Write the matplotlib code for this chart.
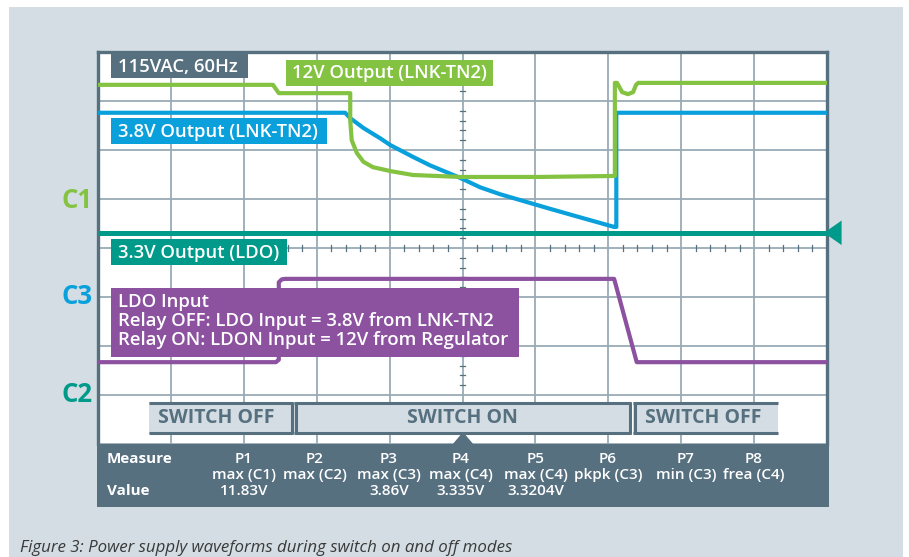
import numpy as np
import matplotlib
matplotlib.use('Agg')
import matplotlib.pyplot as plt
from matplotlib.patches import Rectangle, Polygon
from matplotlib.lines import Line2D

plt.rcParams['font.family'] = ['Open Sans', 'DejaVu Sans']

# colours
bg = '#d3dde3'
slate = '#56707f'
gridcol = '#9aabb6'
green = '#84c341'
blue = '#0aa0dc'
teal = '#009a8a'
purple = '#8c52a0'

# waveforms, x in time divisions (0..10), y in vertical divisions (-4..4)
t_12v = [0, 2.40, 2.48, 3.46, 3.46, 3.48, 3.55, 3.64, 3.77, 4.01, 4.32, 4.97,
         6.06, 7.09, 7.09, 7.12, 7.19, 7.27, 7.34, 7.38, 7.41, 10]
v_12v = [3.33, 3.33, 3.16, 3.16, 2.61, 2.20, 1.94, 1.76, 1.65, 1.57, 1.49, 1.45,
         1.45, 1.47, 3.37, 3.37, 3.18, 3.14, 3.18, 3.33, 3.37, 3.37]

t_38v = [0, 3.39, 3.46, 3.64, 3.87, 4.01, 4.32, 4.55, 4.97, 5.24, 5.51, 6.20, 6.65, 6.89,
         7.08, 7.11, 7.11, 10]
v_38v = [2.76, 2.76, 2.65, 2.45, 2.24, 2.10, 1.86, 1.69, 1.43, 1.24, 1.10, 0.80, 0.61, 0.51,
         0.43, 0.43, 2.76, 2.76]

t_33v = [0, 10]
v_33v = [0.31, 0.31]

t_ldo = [0, 2.44, 2.48, 2.48, 2.52, 2.57, 7.08, 7.39, 10]
v_ldo = [-2.33, -2.33, -2.28, -0.70, -0.64, -0.63, -0.63, -2.33, -2.33]

# measurement table
meas_names = ['P1', 'P2', 'P3', 'P4', 'P5', 'P6', 'P7', 'P8']
meas_funcs = ['max (C1)', 'max (C2)', 'max (C3)', 'max (C4)', 'max (C4)',
              'pkpk (C3)', 'min (C3)', 'frea (C4)']
meas_vals = ['11.83V', '', '3.86V', '3.335V', '3.3204V', '', '', '']
meas_x = [244, 315, 389, 461, 536, 608, 686, 754]

W, H = 909, 557
fig = plt.figure(figsize=(W / 100, H / 100), dpi=100, facecolor='white')


def fx(x):
    return x / W


def fy(y):
    return 1 - y / H


def rect(x0, y0, x1, y1, fc, z=2, **kw):
    fig.patches.append(Rectangle((fx(x0), fy(y1)), fx(x1) - fx(x0), fy(y0) - fy(y1),
                                 transform=fig.transFigure, facecolor=fc, edgecolor='none',
                                 zorder=z, **kw))


def seg(x0, y0, x1, y1, c, lw, z=4):
    fig.lines.append(Line2D([fx(x0), fx(x1)], [fy(y0), fy(y1)], transform=fig.transFigure,
                            color=c, lw=lw, zorder=z, solid_capstyle='butt'))


# background panel
rect(9, 7, 903, 557, bg, z=-1)

ax = fig.add_axes([fx(98), fy(444), fx(827) - fx(98), fy(52) - fy(444)])
ax.set_facecolor('white')
ax.set_xlim(0, 10)
ax.set_ylim(-4, 4)
ax.set_xticks(range(0, 11))
ax.set_yticks(range(-4, 5))
ax.grid(True, color=gridcol, lw=1.3)
ax.tick_params(length=0, labelbottom=False, labelleft=False)
for s in ['left', 'top', 'right']:
    ax.spines[s].set_color(slate)
    ax.spines[s].set_linewidth(2.4)
ax.spines['bottom'].set_visible(False)

# minor ticks on the centre lines
for xm in np.arange(0.2, 10, 0.2):
    if abs(xm - round(xm)) > 0.01:
        ax.plot([xm, xm], [-0.06, 0.06], color=slate, lw=0.9, zorder=2)
for ym in np.arange(-3.8, 4, 0.2):
    if abs(ym - round(ym)) > 0.01:
        ax.plot([4.96, 5.04], [ym, ym], color=slate, lw=0.9, zorder=2)

ax.plot(t_33v, v_33v, color=teal, lw=3.6, zorder=3, solid_capstyle='butt')
ax.plot(t_ldo, v_ldo, color=purple, lw=3.0, zorder=3, solid_joinstyle='round')
ax.plot(t_38v, v_38v, color=blue, lw=3.0, zorder=4, solid_joinstyle='round')
ax.plot(t_12v, v_12v, color=green, lw=3.0, zorder=5, solid_joinstyle='round')
ax.add_patch(Polygon([[9.96, 0.31], [10.2, 0.56], [10.2, 0.06]], closed=True,
                     facecolor=teal, edgecolor='none', clip_on=False, zorder=6))

# trace labels
lab_fs = 13.3
lab_w = 'semibold'
rect(111, 54, 248, 78, slate, z=3)
fig.text(fx(118), fy(66.5), '115VAC, 60Hz', color='white', fontsize=lab_fs, fontweight=lab_w,
         va='center', zorder=5)
rect(286, 60, 493, 86, green, z=3)
fig.text(fx(292), fy(73.5), '12V Output (LNK-TN2)', color='white', fontsize=lab_fs,
         fontweight=lab_w, va='center', zorder=5)
rect(111, 118, 327, 144, blue, z=3)
fig.text(fx(118), fy(131.5), '3.8V Output (LNK-TN2)', color='white', fontsize=lab_fs,
         fontweight=lab_w, va='center', zorder=5)
rect(111, 239, 287, 265, teal, z=3)
fig.text(fx(118), fy(252.5), '3.3V Output (LDO)', color='white', fontsize=lab_fs,
         fontweight=lab_w, va='center', zorder=5)
rect(111, 288, 519, 357, purple, z=3)
for i, line in enumerate(['LDO Input', 'Relay OFF: LDO Input = 3.8V from LNK-TN2',
                          'Relay ON: LDON Input = 12V from Regulator']):
    fig.text(fx(118), fy(302 + 19 * i), line, color='white', fontsize=lab_fs,
             fontweight=lab_w, va='center', zorder=5)

# channel markers
for name, yy, c in [('C1', 200, green), ('C3', 297, blue), ('C2', 395, teal)]:
    fig.text(fx(93), fy(yy), name, color=c, fontsize=18.5, fontweight='bold',
             ha='right', va='center', zorder=5)

# switch state strip
rect(149, 402, 293, 434, bg, z=3)
rect(294, 402, 631, 434, bg, z=3)
rect(633, 402, 778, 434, bg, z=3)
for x0, x1 in [(149, 293), (294, 631), (633, 778)]:
    seg(x0, 403, x1, 403, slate, 2.2)
    seg(x0, 433, x1, 433, slate, 2.2)
seg(291.5, 402, 291.5, 434, slate, 2.2)
seg(295.5, 402, 295.5, 434, slate, 2.2)
seg(629.5, 402, 629.5, 434, slate, 2.2)
seg(634.5, 402, 634.5, 434, slate, 2.2)
for txt, xc in [('SWITCH OFF', 216), ('SWITCH ON', 462), ('SWITCH OFF', 703)]:
    fig.text(fx(xc), fy(418), txt, color=slate, fontsize=14, fontweight='bold',
             ha='center', va='center', zorder=5)

# measurement table
tab_fs = 11
rect(97, 444, 829, 507, slate, z=3)
fig.patches.append(Polygon([[fx(452), fy(445)], [fx(463), fy(432)], [fx(474), fy(445)]],
                           closed=True, transform=fig.transFigure, facecolor=slate,
                           edgecolor='none', zorder=3))
fig.text(fx(107), fy(459), 'Measure', color='white', fontsize=tab_fs, fontweight='bold',
         va='center', zorder=5)
fig.text(fx(107), fy(491), 'Value', color='white', fontsize=tab_fs, fontweight='bold',
         va='center', zorder=5)
for xc, n, f, v in zip(meas_x, meas_names, meas_funcs, meas_vals):
    fig.text(fx(xc), fy(459), n, color='white', fontsize=tab_fs, fontweight=lab_w,
             ha='center', va='center', zorder=5)
    fig.text(fx(xc), fy(475), f, color='white', fontsize=tab_fs, fontweight=lab_w,
             ha='center', va='center', zorder=5)
    if v:
        fig.text(fx(xc), fy(491), v, color='white', fontsize=tab_fs, fontweight=lab_w,
                 ha='center', va='center', zorder=5)

fig.text(fx(20), fy(548), 'Figure 3: Power supply waveforms during switch on and off modes',
         color='#3a3a3a', fontsize=12.2, fontstyle='italic', va='center', zorder=5)

fig.savefig('out.png', dpi=100, facecolor='white')
